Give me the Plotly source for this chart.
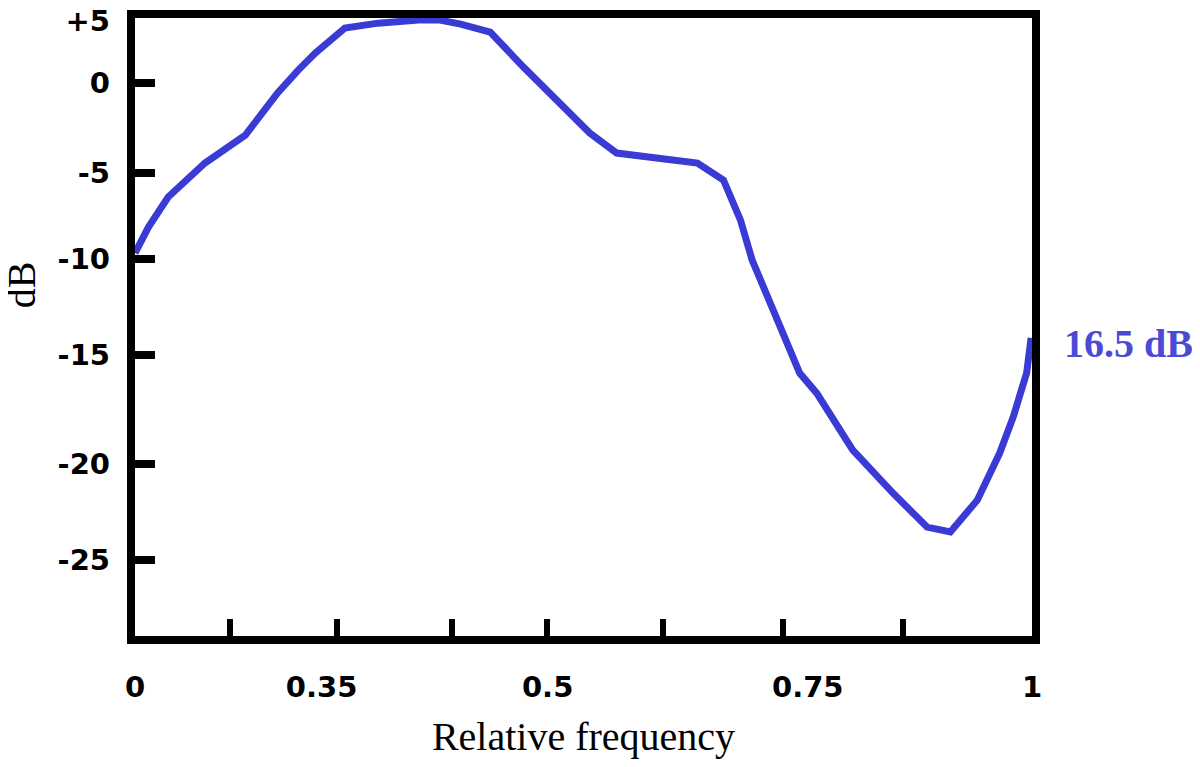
"""Relative frequency response curve (dB)."""

import plotly.graph_objects as go

# curve: horizontal position across the frame (0..1) and level in dB
freq_pos = [
    0.000, 0.015, 0.037, 0.078, 0.123, 0.141, 0.159, 0.182, 0.201, 0.234,
    0.271, 0.316, 0.340, 0.363, 0.396, 0.433, 0.471, 0.507, 0.537, 0.582,
    0.627, 0.656, 0.675, 0.688, 0.708, 0.730, 0.741, 0.760, 0.800, 0.845,
    0.883, 0.909, 0.939, 0.964, 0.979, 0.994, 0.999,
]
level_db = [
    -8.91, -7.55, -5.97, -4.19, -2.73, -1.57, -0.52, 0.68, 1.57, 2.88,
    3.14, 3.30, 3.30, 3.09, 2.67, 0.84, -0.89, -2.62, -3.67, -3.93,
    -4.19, -5.08, -7.18, -9.28, -11.43, -13.84, -15.20, -16.25, -19.23, -21.49,
    -23.27, -23.53, -21.86, -19.39, -17.51, -15.20, -13.36,
]

# axis furniture as drawn in the original (uneven spacing is kept)
x_tick_marks = [0.106, 0.225, 0.353, 0.459, 0.589, 0.722, 0.856]
x_label_pos = [0.0, 0.208, 0.460, 0.750, 1.0]
x_labels = ["0", "0.35", "0.5", "0.75", "1"]

y_tick_marks = [0.0, -4.72, -9.22, -14.26, -19.97, -25.0]
y_label_pos = [3.27, 0.0, -4.72, -9.22, -14.26, -19.97, -25.0]
y_labels = ["+5", "0", "-5", "-10", "-15", "-20", "-25"]

Y_RANGE = [-28.98, 3.41]
LINE_BLUE = "#3a3ad4"
TICK_FONT = dict(family="DejaVu Sans", size=29, color="black", weight="bold")
SERIF = "Liberation Serif"

fig = go.Figure()
fig.add_trace(
    go.Scatter(
        x=freq_pos,
        y=level_db,
        mode="lines",
        line=dict(color=LINE_BLUE, width=7),
        hoverinfo="skip",
        showlegend=False,
    )
)
# empty trace so the overlaid label axes get drawn
fig.add_trace(go.Scatter(x=[], y=[], xaxis="x2", yaxis="y2", showlegend=False))

frame = dict(
    showline=True,
    linewidth=8,
    linecolor="black",
    mirror=True,
    showgrid=False,
    zeroline=False,
    showticklabels=False,
    ticks="inside",
    tickcolor="black",
    automargin=False,
)
labels_only = dict(
    ticks="",
    showline=False,
    showgrid=False,
    zeroline=False,
    tickfont=TICK_FONT,
    automargin=False,
    ticklabeloverflow="allow",
)

# the page body adds 8px on each side, so the figure is 16px smaller than the window
fig.update_layout(
    width=1184,
    height=751,
    margin=dict(l=127, r=160, t=10, b=123),
    paper_bgcolor="white",
    plot_bgcolor="white",
    xaxis=dict(range=[0, 1], tickvals=x_tick_marks, ticklen=17, tickwidth=6, **frame),
    yaxis=dict(range=Y_RANGE, tickvals=y_tick_marks, ticklen=20, tickwidth=8, **frame),
    xaxis2=dict(
        overlaying="x",
        side="bottom",
        range=[0, 1],
        tickvals=x_label_pos,
        ticktext=x_labels,
        ticklabelstandoff=31,
        title=dict(
            text="Relative frequency",
            font=dict(family=SERIF, size=40, color="black"),
            standoff=41,
        ),
        **labels_only,
    ),
    yaxis2=dict(
        overlaying="y",
        side="left",
        range=Y_RANGE,
        tickvals=y_label_pos,
        ticktext=y_labels,
        ticklabelstandoff=24,
        **labels_only,
    ),
    annotations=[
        dict(
            text="16.5 dB",
            x=1.033,
            xref="paper",
            y=-13.63,
            yref="y",
            xanchor="left",
            yanchor="middle",
            showarrow=False,
            font=dict(family=SERIF, size=40, color="#4a4ad6", weight="bold"),
        ),
        dict(
            text="dB",
            x=-0.127,
            xref="paper",
            y=-10.59,
            yref="y",
            xanchor="center",
            yanchor="middle",
            textangle=-90,
            showarrow=False,
            font=dict(family=SERIF, size=40, color="black"),
        ),
    ],
)

fig.write_html("out.html")
